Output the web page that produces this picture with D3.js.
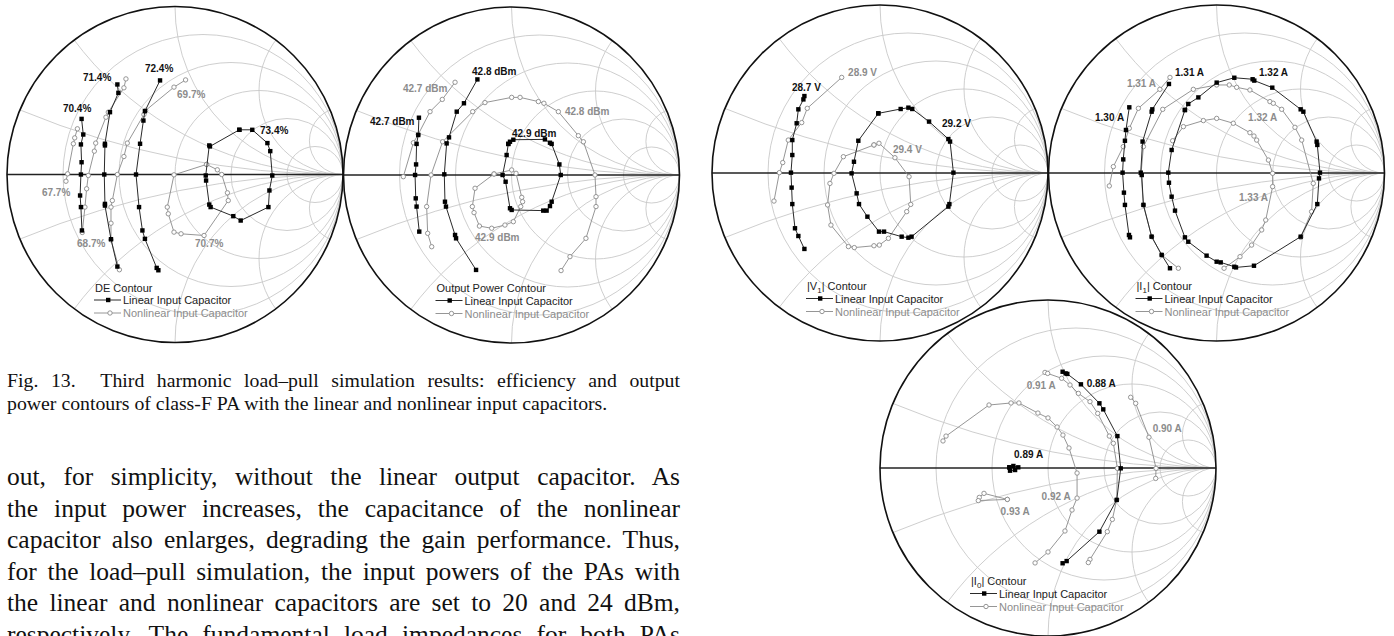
<!DOCTYPE html>
<html>
<head>
<meta charset="utf-8">
<script src="https://cdn.jsdelivr.net/npm/d3@7"></script>
<style>
  html, body { margin: 0; padding: 0; background: #fff; }
  svg { display: block; }
  .grid circle { fill: none; stroke: #c8c8c8; stroke-width: 0.9; }
  .rim { fill: none; stroke: #111; stroke-width: 1.6; }
  .axis { stroke: #222; stroke-width: 1.4; }
  .lin-line { fill: none; stroke: #2a2a2a; stroke-width: 1; }
  .nl-line { fill: none; stroke: #8a8a8a; stroke-width: 0.9; }
  .lin-mark { fill: #000; }
  .nl-mark { fill: #fff; stroke: #8a8a8a; stroke-width: 0.9; }
  .val { font-family: "Liberation Sans", Arial, sans-serif; font-size: 10px; font-weight: bold; }
  .val.lin { fill: #111; }
  .val.nl { fill: #8c8c8c; }
  .leg { font-family: "Liberation Sans", Arial, sans-serif; font-size: 11px; fill: #222; }
  .leg.nl { fill: #8c8c8c; }
  .serif { font-family: "Liberation Serif", "Times New Roman", serif; fill: #111; white-space: pre; }
</style>
</head>
<body>
<svg id="page" width="1394" height="636"></svg>
<script>

// Smith chart grid: normalised resistance circles and reactance arcs
let rGrid = [0.2, 0.5, 1, 2, 5]
let xGrid = [0.2, 0.5, 1, 2, 5, -0.2, -0.5, -1, -2, -5]

// reflection coefficient points [re, im]

// ---- DE contour
let deLinear = [
    { value: "70.4%", pts: [[-0.556, 0.331], [-0.546, 0.238], [-0.560, 0.179], [-0.556, 0.073], [-0.560, 0], [-0.565, -0.125], [-0.560, -0.194], [-0.554, -0.333]] },
    { value: "71.4%", pts: [[-0.343, 0.536], [-0.337, 0.486], [-0.387, 0.371], [-0.417, 0.183], [-0.417, 0.173], [-0.421, 0], [-0.417, -0.175], [-0.417, -0.185], [-0.381, -0.385], [-0.343, -0.548]] },
    { value: "72.4%", pts: [[-0.089, 0.560], [-0.179, 0.377], [-0.188, 0.321], [-0.208, 0.183], [-0.232, 0], [-0.214, -0.194], [-0.194, -0.333], [-0.179, -0.383], [-0.109, -0.556], [-0.099, -0.570]] },
    { value: "73.4%", pts: [[0.383, 0.266], [0.460, 0.266], [0.550, 0.187], [0.567, 0.139], [0.579, -0.006], [0.562, -0.095], [0.556, -0.194], [0.391, -0.274], [0.347, -0.248], [0.212, -0.194], [0.204, -0.179], [0.185, -0.036], [0.183, -0.006], [0.204, 0.173], [0.208, 0.167], [0.383, 0.266]] }
]
let deNonlinear = [
    { value: "67.7%", pts: [[-0.581, 0.272], [-0.597, 0.218], [-0.605, 0.183], [-0.639, 0.004], [-0.649, -0.040]] },
    { value: "68.7%", pts: [[-0.292, 0.569], [-0.304, 0.516], [-0.397, 0.371], [-0.411, 0.341], [-0.472, 0.187], [-0.480, 0.139], [-0.516, -0.006], [-0.526, -0.085], [-0.536, -0.194], [-0.552, -0.345]] },
    { value: "69.7%", pts: [[0.063, 0.563], [-0.006, 0.520], [-0.175, 0.381], [-0.185, 0.357], [-0.284, 0.187], [-0.304, 0.107], [-0.343, 0], [-0.373, -0.155], [-0.381, -0.194], [-0.381, -0.290], [-0.381, -0.389], [-0.331, -0.567]] },
    { value: "70.7%", pts: [[0.188, 0.060], [0.252, 0.028], [0.278, 0], [0.312, -0.109], [0.317, -0.155], [0.173, -0.363], [0.036, -0.353], [-0.006, -0.343], [-0.040, -0.234], [-0.046, -0.194], [-0.006, -0.002], [0.188, 0.060]] }
]
let deLabels = [
    ["70.4%", "lin", -0.667, 0.396], ["71.4%", "lin", -0.548, 0.580], ["72.4%", "lin", -0.179, 0.634], ["73.4%", "lin", 0.506, 0.265],
    ["69.7%", "nl", 0.012, 0.479], ["67.7%", "nl", -0.792, -0.104], ["68.7%", "nl", -0.583, -0.408], ["70.7%", "nl", 0.119, -0.408]
]

// ---- output power contour
let powLinear = [
    { value: "42.7 dBm", pts: [[-0.551, 0.341], [-0.555, 0.238], [-0.565, 0.185], [-0.568, 0.063], [-0.574, 0], [-0.570, -0.139], [-0.565, -0.188], [-0.549, -0.337]] },
    { value: "42.8 dBm", pts: [[-0.203, 0.569], [-0.283, 0.427], [-0.326, 0.377], [-0.372, 0.224], [-0.386, 0.188], [-0.400, 0.004], [-0.396, -0.159], [-0.390, -0.188], [-0.336, -0.357], [-0.330, -0.377], [-0.211, -0.565]] },
    { value: "42.9 dBm", pts: [[-0.019, 0.185], [-0.009, 0.198], [0.011, 0.210], [0.199, 0.212], [0.229, 0.192], [0.239, 0.185], [0.285, 0.063], [0.293, 0], [0.239, -0.159], [0.229, -0.185], [0.209, -0.212], [0.189, -0.212], [0.001, -0.208], [-0.009, -0.198], [-0.035, -0.040], [-0.053, 0], [-0.029, 0.119], [-0.019, 0.185]] }
]
let powNonlinear = [
    { value: "42.7 dBm", pts: [[-0.336, 0.552], [-0.412, 0.450], [-0.485, 0.377], [-0.555, 0.242], [-0.584, 0.192], [-0.644, -0.010]] },
    { value: "42.8 dBm", pts: [[-0.475, -0.427], [-0.499, -0.347], [-0.505, -0.188], [-0.479, 0], [-0.410, 0.198], [-0.231, 0.377], [-0.158, 0.431], [0.001, 0.462], [0.051, 0.462], [0.160, 0.437], [0.193, 0.427], [0.279, 0.377], [0.398, 0.234], [0.428, 0.198], [0.497, 0], [0.503, -0.129], [0.503, -0.188], [0.443, -0.377], [0.348, -0.486], [0.295, -0.569]] },
    { value: "42.9 dBm", pts: [[-0.104, 0.006], [0.001, 0.030], [0.027, 0.010], [0.061, -0.133], [0.066, -0.159], [0.055, -0.188], [0.011, -0.278], [-0.039, -0.298], [-0.118, -0.317], [-0.191, -0.304], [-0.223, -0.224], [-0.233, -0.188], [-0.217, -0.079], [-0.104, 0.006]] }
]
let powLabels = [
    ["42.8 dBm", "lin", -0.235, 0.619], ["42.7 dBm", "nl", -0.646, 0.518], ["42.7 dBm", "lin", -0.842, 0.321],
    ["42.8 dBm", "nl", 0.318, 0.381], ["42.9 dBm", "lin", 0.003, 0.250], ["42.9 dBm", "nl", -0.217, -0.369]
]

// ---- |V1| contour
let v1Linear = [
    { value: "28.7 V", pts: [[-0.450, 0.458], [-0.456, 0.438], [-0.486, 0.379], [-0.496, 0.296], [-0.522, 0.196], [-0.522, 0.107], [-0.530, 0.002], [-0.526, -0.087], [-0.522, -0.185], [-0.506, -0.329], [-0.486, -0.375], [-0.450, -0.452]] },
    { value: "29.2 V", pts: [[-0.010, 0.355], [0.123, 0.381], [0.169, 0.389], [0.192, 0.381], [0.292, 0.306], [0.407, 0.202], [0.417, 0.187], [0.437, 0.002], [0.413, -0.185], [0.407, -0.200], [0.188, -0.379], [0.169, -0.385], [0.129, -0.379], [0.024, -0.349], [-0.006, -0.349], [-0.075, -0.260], [-0.125, -0.185], [-0.139, -0.121], [-0.169, -0.002], [-0.155, 0.067], [-0.129, 0.192], [-0.010, 0.355]] }
]
let v1Nonlinear = [
    { value: "28.9 V", pts: [[-0.228, 0.569], [-0.433, 0.385], [-0.466, 0.300], [-0.546, 0.196], [-0.579, 0.062], [-0.599, 0.002], [-0.631, -0.167]] },
    { value: "29.4 V", pts: [[-0.036, 0.167], [-0.006, 0.177], [0.089, 0.091], [0.173, -0.022], [0.183, -0.187], [0.159, -0.230], [0.050, -0.389], [-0.004, -0.429], [-0.036, -0.433], [-0.153, -0.444], [-0.188, -0.438], [-0.292, -0.310], [-0.312, -0.190], [-0.298, -0.062], [-0.274, -0.002], [-0.218, 0.097], [-0.036, 0.167]] }
]
let v1Labels = [
    ["28.9 V", "nl", -0.190, 0.601], ["28.7 V", "lin", -0.524, 0.512], ["29.2 V", "lin", 0.369, 0.298], ["29.4 V", "nl", 0.077, 0.143]
]

// ---- |I1| contour
let i1Linear = [
    { value: "1.30 A", pts: [[-0.519, 0.391], [-0.539, 0.256], [-0.545, 0.192], [-0.555, 0.081], [-0.559, 0.002], [-0.551, -0.117], [-0.545, -0.190], [-0.521, -0.369], [-0.515, -0.383]] },
    { value: "1.31 A", pts: [[-0.283, 0.530], [-0.382, 0.379], [-0.386, 0.365], [-0.440, 0.187], [-0.451, 0.002], [-0.445, -0.012], [-0.435, -0.190], [-0.386, -0.379], [-0.326, -0.488], [-0.277, -0.567]] },
    { value: "1.32 A", pts: [[-0.188, 0.375], [-0.168, 0.411], [-0.108, 0.450], [0.001, 0.538], [0.106, 0.567], [0.215, 0.558], [0.225, 0.550], [0.332, 0.508], [0.501, 0.379], [0.517, 0.365], [0.596, 0.187], [0.600, 0.167], [0.616, 0.002], [0.610, -0.032], [0.600, -0.185], [0.501, -0.379], [0.223, -0.552], [0.116, -0.562], [0.106, -0.558], [0.025, -0.532], [0.001, -0.528], [-0.059, -0.492], [-0.168, -0.409], [-0.188, -0.383], [-0.247, -0.224], [-0.267, -0.141], [-0.283, -0.058], [-0.287, 0.002], [-0.267, 0.137], [-0.188, 0.375]] }
]
let i1Nonlinear = [
    { value: "1.31 A", pts: [[-0.277, 0.569], [-0.337, 0.498], [-0.465, 0.385], [-0.519, 0.266], [-0.555, 0.157], [-0.614, 0.038], [-0.638, -0.077]] },
    { value: "1.32 A", pts: [[-0.227, -0.567], [-0.326, -0.488], [-0.386, -0.379], [-0.435, -0.190], [-0.449, -0.002], [-0.435, 0.157], [-0.320, 0.379], [-0.138, 0.498], [0.001, 0.524], [0.076, 0.524], [0.120, 0.510], [0.199, 0.494], [0.318, 0.425], [0.338, 0.415], [0.388, 0.379], [0.467, 0.272], [0.507, 0.196], [0.576, -0.062], [0.566, -0.230], [0.501, -0.383]] },
    { value: "1.33 A", pts: [[-0.261, 0.192], [-0.197, 0.276], [-0.078, 0.312], [0.001, 0.325], [0.100, 0.296], [0.199, 0.240], [0.223, 0.220], [0.239, 0.196], [0.309, 0.077], [0.334, -0.002], [0.334, -0.081], [0.293, -0.280], [0.269, -0.339], [0.209, -0.429], [0.140, -0.498], [0.045, -0.567]] }
]
let i1Labels = [
    ["1.31 A", "lin", -0.247, 0.601], ["1.32 A", "lin", 0.253, 0.601], ["1.31 A", "nl", -0.533, 0.536],
    ["1.30 A", "lin", -0.723, 0.333], ["1.32 A", "nl", 0.188, 0.333], ["1.33 A", "nl", 0.134, -0.143]
]

// ---- |I0| contour
let i0Linear = [
    { value: "0.88 A", pts: [[0.087, 0.573], [0.105, 0.563], [0.115, 0.560], [0.196, 0.498], [0.306, 0.385], [0.329, 0.349], [0.413, 0.190], [0.433, -0.002], [0.409, -0.190], [0.306, -0.379], [0.111, -0.554], [0.087, -0.567]] },
    { value: "0.89 A", pts: [[-0.230, 0.004], [-0.206, 0.012], [-0.177, 0.004], [-0.196, -0.012], [-0.226, -0.016], [-0.230, 0.004]] }
]
let i0Nonlinear = [
    { value: "0.90 A", pts: [[0.492, 0.421], [0.522, 0.385], [0.601, 0.183], [0.643, -0.002], [0.641, -0.062]] },
    { value: "0.91 A", pts: [[-0.018, 0.569], [-0.002, 0.563], [0.081, 0.534], [0.131, 0.494], [0.181, 0.444], [0.250, 0.395], [0.296, 0.325], [0.365, 0.190], [0.389, 0.147], [0.413, -0.002], [0.409, -0.190], [0.383, -0.306], [0.353, -0.379], [0.250, -0.544], [0.240, -0.563]] },
    { value: "0.92 A", pts: [[-0.625, 0.161], [-0.607, 0.190], [-0.351, 0.375], [-0.220, 0.387], [-0.173, 0.387], [-0.060, 0.327], [0, 0.298], [0.054, 0.244], [0.089, 0.196], [0.125, 0.119], [0.173, -0.030], [0.173, -0.179], [0.143, -0.250], [0.101, -0.375], [0, -0.500], [-0.077, -0.565]] },
    { value: "0.93 A", pts: [[-0.242, -0.187], [-0.381, -0.151], [-0.409, -0.175], [-0.415, -0.194], [-0.242, -0.187]] }
]
let i0Labels = [
    ["0.88 A", "lin", 0.230, 0.504], ["0.91 A", "nl", -0.127, 0.490], ["0.90 A", "nl", 0.623, 0.236],
    ["0.89 A", "lin", -0.202, 0.082], ["0.92 A", "nl", -0.038, -0.171], ["0.93 A", "nl", -0.282, -0.260]
]

let legendNames = ["Linear Input Capacitor", "Nonlinear Input Capacitor"]

let captionLines = [
    "Fig. 13.  Third harmonic load\u2013pull simulation results: efficiency and output",
    "power contours of class-F PA with the linear and nonlinear input capacitors."
]
let bodyLines = [
    "out, for simplicity, without the linear output capacitor. As",
    "the input power increases, the capacitance of the nonlinear",
    "capacitor also enlarges, degrading the gain performance. Thus,",
    "for the load\u2013pull simulation, the input powers of the PAs with",
    "the linear and nonlinear capacitors are set to 20 and 24 dBm,",
    "respectively. The fundamental load impedances for both PAs"
]

// layout of the five charts on the page
let R = 168
let charts = [
    { cx: 175, cy: 174.5, title: [["DE Contour"]], lin: deLinear, nl: deNonlinear, labels: deLabels, legX: -81 },
    { cx: 511.5, cy: 175, title: [["Output Power Contour"]], lin: powLinear, nl: powNonlinear, labels: powLabels, legX: -76 },
    { cx: 880, cy: 173, title: [["|V"], ["1", 1], ["| Contour"]], lin: v1Linear, nl: v1Nonlinear, labels: v1Labels, legX: -74 },
    { cx: 1216.5, cy: 173, title: [["|I"], ["1", 1], ["| Contour"]], lin: i1Linear, nl: i1Nonlinear, labels: i1Labels, legX: -81 },
    { cx: 1048, cy: 468, title: [["|I"], ["0", 1], ["| Contour"]], lin: i0Linear, nl: i0Nonlinear, labels: i0Labels, legX: -78 }
]

let svg = d3.select("#page")
let defs = svg.append("defs")

charts.forEach(function (c, i) {

    let x = d3.scaleLinear().domain([-1, 1]).range([c.cx - R, c.cx + R])
    let y = d3.scaleLinear().domain([-1, 1]).range([c.cy + R, c.cy - R])
    let k = x(1) - x(0)

    defs.append("clipPath")
        .attr("id", "clip" + i)
        .append("circle")
        .attr("cx", x(0))
        .attr("cy", y(0))
        .attr("r", k)

    let g = svg.append("g").attr("class", "chart")

    let grid = g.append("g")
        .attr("class", "grid")
        .attr("clip-path", "url(#clip" + i + ")")

    grid.selectAll(".rc")
        .data(rGrid)
        .enter()
        .append("circle")
        .attr("cx", r => x(r / (1 + r)))
        .attr("cy", y(0))
        .attr("r", r => k / (1 + r))

    grid.selectAll(".xc")
        .data(xGrid)
        .enter()
        .append("circle")
        .attr("cx", x(1))
        .attr("cy", v => y(1 / v))
        .attr("r", v => k / Math.abs(v))

    g.append("line")
        .attr("class", "axis")
        .attr("x1", x(-1))
        .attr("x2", x(1))
        .attr("y1", y(0))
        .attr("y2", y(0))

    g.append("circle")
        .attr("class", "rim")
        .attr("cx", x(0))
        .attr("cy", y(0))
        .attr("r", k)

    let line = d3.line()
        .x(d => x(d[0]))
        .y(d => y(d[1]))

    // nonlinear input capacitor: grey line, open circles
    let nl = g.append("g")
    nl.selectAll("path")
        .data(c.nl)
        .enter()
        .append("path")
        .attr("class", "nl-line")
        .attr("d", d => line(d.pts))
    nl.selectAll("circle")
        .data(c.nl.flatMap(d => d.pts))
        .enter()
        .append("circle")
        .attr("class", "nl-mark")
        .attr("cx", d => x(d[0]))
        .attr("cy", d => y(d[1]))
        .attr("r", 2.2)

    // linear input capacitor: black line, filled squares
    let lin = g.append("g")
    lin.selectAll("path")
        .data(c.lin)
        .enter()
        .append("path")
        .attr("class", "lin-line")
        .attr("d", d => line(d.pts))
    lin.selectAll("rect")
        .data(c.lin.flatMap(d => d.pts))
        .enter()
        .append("rect")
        .attr("class", "lin-mark")
        .attr("x", d => x(d[0]) - 2.2)
        .attr("y", d => y(d[1]) - 2.2)
        .attr("width", 4.4)
        .attr("height", 4.4)

    g.selectAll(".val")
        .data(c.labels)
        .enter()
        .append("text")
        .attr("class", d => "val " + d[1])
        .attr("x", d => x(d[2]))
        .attr("y", d => y(d[3]) + 3.6)
        .text(d => d[0])

    // legend
    let lx = c.cx + c.legX
    let title = g.append("text")
        .attr("class", "leg")
        .attr("x", lx + 1)
        .attr("y", c.cy + 117)
    c.title.forEach(function (t) {
        let ts = title.append("tspan").text(t[0])
        if (t[1]) {
            ts.attr("font-size", "8px").attr("dy", 2.5)
        } else if (title.selectAll("tspan").size() > 1) {
            ts.attr("dy", -2.5)
        }
    })

    let rows = [c.cy + 125.5, c.cy + 138.5]
    g.append("line").attr("x1", lx).attr("x2", lx + 27).attr("y1", rows[0]).attr("y2", rows[0]).attr("class", "lin-line")
    g.append("rect").attr("class", "lin-mark").attr("x", lx + 12).attr("y", rows[0] - 2.2).attr("width", 4.4).attr("height", 4.4)
    g.append("line").attr("x1", lx).attr("x2", lx + 27).attr("y1", rows[1]).attr("y2", rows[1]).attr("class", "nl-line")
    g.append("circle").attr("class", "nl-mark").attr("cx", lx + 16).attr("cy", rows[1]).attr("r", 2.2)

    g.append("text").attr("class", "leg").attr("x", lx + 29).attr("y", rows[0] + 4).text(legendNames[0])
    g.append("text").attr("class", "leg nl").attr("x", lx + 29).attr("y", rows[1] + 4).text(legendNames[1])
})

// caption and body text, justified to the column
let colX = 7
let colW = 673

function textBlock(lines, size, base, step, justifyLast) {
    lines.forEach(function (s, i) {
        let t = svg.append("text")
            .attr("class", "serif")
            .attr("x", colX)
            .attr("y", base + i * step)
            .attr("font-size", size + "px")
            .text(s)
        if (i < lines.length - 1 || justifyLast) {
            let w = t.node().getComputedTextLength()
            let gaps = (s.match(/ /g) || []).length
            if (gaps > 0) t.style("word-spacing", ((colW - w) / gaps) + "px")
        }
    })
}

textBlock(captionLines, 19.8, 387, 23, false)
textBlock(bodyLines, 25.5, 485, 31.6, true)

</script>
</body>
</html>
